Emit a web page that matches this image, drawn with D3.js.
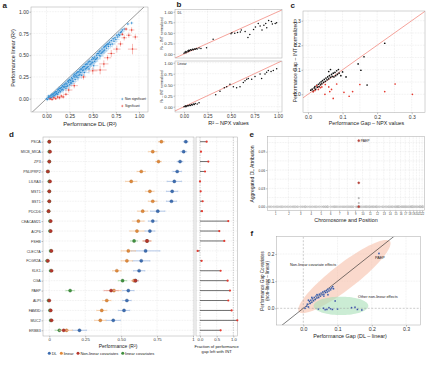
<!DOCTYPE html>
<html>
<head>
<meta charset="utf-8">
<script src="https://cdn.jsdelivr.net/npm/d3@7/dist/d3.min.js"></script>
<style>
  body { margin: 0; background: #fff; }
  svg { display: block; font-family: "Liberation Sans", Arial, sans-serif; }
</style>
</head>
<body>
<svg id="fig" width="440" height="368"></svg>
<script>
// ---------------- data ----------------

// a: performance DL vs linear, [x, y, err]
var aNonSig = [
  [0.00,0.00,0.02],[0.01,-0.01,0.02],[0.02,0.01,0.02],[0.03,0.00,0.02],[0.03,0.02,0.02],[0.04,0.03,0.02],
  [0.05,0.01,0.02],[0.05,0.04,0.02],[0.06,0.02,0.03],[0.07,0.05,0.02],[0.07,0.03,0.03],[0.08,0.06,0.02],
  [0.09,0.04,0.03],[0.09,0.07,0.02],[0.10,0.05,0.03],[0.11,0.08,0.03],[0.11,0.06,0.03],[0.12,0.10,0.02],
  [0.13,0.07,0.03],[0.13,0.11,0.03],[0.14,0.09,0.03],[0.15,0.12,0.03],[0.15,0.08,0.03],[0.16,0.13,0.03],
  [0.17,0.11,0.03],[0.17,0.15,0.02],[0.18,0.10,0.04],[0.19,0.16,0.03],[0.19,0.13,0.03],[0.20,0.14,0.03],
  [0.21,0.18,0.03],[0.21,0.12,0.04],[0.22,0.17,0.03],[0.23,0.20,0.03],[0.23,0.15,0.04],[0.24,0.19,0.03],
  [0.25,0.22,0.03],[0.25,0.16,0.04],[0.26,0.21,0.03],[0.27,0.24,0.03],[0.27,0.18,0.04],[0.28,0.23,0.03],
  [0.29,0.26,0.03],[0.29,0.20,0.04],[0.30,0.25,0.03],[0.31,0.27,0.03],[0.31,0.22,0.04],[0.32,0.29,0.03],
  [0.33,0.26,0.04],[0.33,0.30,0.03],[0.34,0.24,0.04],[0.35,0.31,0.03],[0.36,0.28,0.04],[0.36,0.33,0.03],
  [0.37,0.30,0.04],[0.38,0.34,0.03],[0.38,0.27,0.04],[0.39,0.36,0.03],[0.40,0.33,0.04],[0.41,0.37,0.03],
  [0.41,0.30,0.05],[0.42,0.39,0.03],[0.43,0.35,0.04],[0.44,0.40,0.03],[0.45,0.37,0.04],[0.45,0.42,0.03],
  [0.46,0.34,0.05],[0.47,0.43,0.03],[0.48,0.40,0.04],[0.49,0.45,0.03],[0.50,0.42,0.04],[0.50,0.47,0.03],
  [0.51,0.38,0.05],[0.52,0.48,0.03],[0.53,0.45,0.04],[0.54,0.50,0.03],[0.55,0.47,0.04],[0.56,0.52,0.03],
  [0.57,0.50,0.04],[0.58,0.55,0.03],[0.59,0.52,0.04],[0.60,0.57,0.03],[0.61,0.54,0.04],[0.62,0.59,0.03],
  [0.63,0.56,0.04],[0.64,0.61,0.03],[0.65,0.58,0.04],[0.66,0.63,0.03],[0.67,0.60,0.04],[0.68,0.65,0.03],
  [0.70,0.67,0.03],[0.71,0.63,0.04],[0.72,0.69,0.03],[0.74,0.70,0.03],[0.75,0.68,0.04],[0.76,0.73,0.03],
  [0.78,0.74,0.03],[0.80,0.76,0.03],[0.82,0.79,0.02],[0.84,0.80,0.03],[0.88,0.86,0.02],[0.92,0.87,0.02],
  [0.02,0.03,0.02],[0.04,0.01,0.02],[0.06,0.05,0.02],[0.08,0.03,0.02],[0.10,0.08,0.02],[0.12,0.05,0.03],
  [0.14,0.12,0.02],[0.16,0.10,0.03],[0.18,0.14,0.03],[0.20,0.17,0.03],[0.22,0.14,0.03],[0.24,0.21,0.03],
  [0.26,0.18,0.03],[0.28,0.20,0.03],[0.30,0.28,0.03],[0.32,0.25,0.03],[0.34,0.31,0.03],[0.35,0.27,0.04],
  [0.37,0.34,0.03],[0.39,0.32,0.04],[0.40,0.37,0.03],[0.42,0.34,0.04],[0.43,0.40,0.03],[0.44,0.36,0.04],
  [0.46,0.43,0.03],[0.47,0.39,0.04],[0.49,0.41,0.04],[0.51,0.46,0.03],[0.52,0.43,0.04],[0.54,0.46,0.04],
  [0.55,0.52,0.03],[0.57,0.54,0.03],[0.58,0.49,0.04],[0.60,0.53,0.04],[0.62,0.55,0.04],[0.63,0.60,0.03],
  [0.65,0.62,0.03],[0.67,0.63,0.03],[0.69,0.62,0.04],[0.73,0.66,0.04],[0.77,0.71,0.03],[0.79,0.73,0.03],
  [0.81,0.77,0.03]
];
// [x, y, errX, errY]
var aSig = [
  [0.04,0.00,0.02,0.015],[0.06,-0.01,0.02,0.015],[0.08,0.01,0.02,0.015],[0.10,0.00,0.02,0.015],
  [0.12,0.02,0.03,0.02],[0.14,0.01,0.02,0.02],[0.16,0.03,0.03,0.02],[0.18,0.02,0.02,0.02],
  [0.21,0.05,0.03,0.02],[0.24,0.10,0.04,0.03],[0.30,0.15,0.04,0.03],[0.40,0.25,0.03,0.03],
  [0.50,0.32,0.05,0.04],[0.58,0.33,0.07,0.05],[0.62,0.40,0.05,0.04],[0.66,0.47,0.04,0.03],
  [0.70,0.52,0.04,0.04],[0.76,0.57,0.04,0.04],[0.80,0.63,0.03,0.03],[0.84,0.70,0.03,0.03],
  [0.86,0.80,0.02,0.02],[0.89,0.73,0.03,0.03],[0.92,0.79,0.03,0.03],[0.96,0.71,0.03,0.03],
  [0.93,0.57,0.05,0.06],[0.82,0.74,0.02,0.02]
];
var r2Ticks = [0, 0.25, 0.5, 0.75, 1];

// b: R² NPX vs INT normalized, [x, y]
var bDL = [
  [0.00,0.02],[0.01,0.04],[0.02,0.03],[0.02,0.06],[0.03,0.05],[0.04,0.07],[0.05,0.06],[0.05,0.09],
  [0.06,0.08],[0.07,0.10],[0.08,0.09],[0.09,0.11],[0.10,0.10],[0.11,0.12],[0.12,0.11],[0.13,0.13],
  [0.14,0.12],[0.16,0.14],[0.18,0.13],[0.24,0.15],[0.31,0.35],
  [0.50,0.48],[0.51,0.50],[0.54,0.49],[0.57,0.51],[0.60,0.52],[0.61,0.57],[0.65,0.53],[0.68,0.39],
  [0.70,0.46],[0.74,0.58],[0.76,0.64],[0.79,0.72],[0.81,0.66],[0.83,0.57],[0.85,0.68],[0.87,0.72],
  [0.88,0.62],[0.90,0.79],[0.93,0.77],[0.94,0.71],[0.97,0.72],[0.985,0.74]
];
var bLinear = [
  [0.00,0.00],[0.01,0.01],[0.02,0.00],[0.02,0.02],[0.03,0.01],[0.04,0.03],[0.05,0.02],[0.06,0.04],
  [0.07,0.03],[0.08,0.05],[0.09,0.04],[0.10,0.06],[0.11,0.05],[0.12,0.07],[0.14,0.06],[0.16,0.09],
  [0.337,0.274],[0.383,0.352],[0.429,0.431],[0.454,0.454],[0.489,0.509],[0.525,0.454],[0.56,0.431],
  [0.596,0.454],[0.631,0.548],[0.649,0.587],[0.667,0.626],[0.684,0.642],[0.72,0.626],[0.755,0.689],
  [0.809,0.744],[0.826,0.642],[0.862,0.744],[0.879,0.783],[0.897,0.822],[0.926,0.798],[0.95,0.822],
  [0.986,0.861]
];

// c: performance gap NPX vs INT normalized
var gapTicks = [0, 0.1, 0.2, 0.3];
var cKept = [
  [0.008,0.017],[0.012,0.021],[0.015,0.013],[0.018,0.026],[0.020,0.031],[0.022,0.020],[0.025,0.036],
  [0.027,0.029],[0.030,0.041],[0.032,0.031],[0.034,0.046],[0.036,0.039],[0.038,0.051],[0.040,0.043],
  [0.042,0.056],[0.045,0.049],[0.047,0.061],[0.050,0.053],[0.052,0.066],[0.055,0.059],[0.057,0.071],
  [0.060,0.063],[0.062,0.076],[0.065,0.069],[0.068,0.081],[0.070,0.073],[0.073,0.086],[0.075,0.071],
  [0.078,0.089],[0.080,0.076],[0.083,0.096],[0.085,0.081],[0.088,0.101],[0.090,0.086],[0.095,0.076],
  [0.100,0.091],[0.110,0.071],[0.060,0.093],[0.065,0.101],[0.145,0.124],[0.153,0.098],[0.162,0.153],
  [0.171,0.038],[0.222,0.208]
];
var cLost = [
  [0.015,0.010],[0.020,0.015],[0.025,0.035],[0.030,0.020],[0.036,0.027],[0.040,0.030],[0.049,0.000],
  [0.050,0.040],[0.060,0.030],[0.063,0.011],[0.068,0.020],[0.073,-0.017],[0.083,0.042],[0.104,0.008],
  [0.119,-0.008],[0.129,0.011],[0.150,0.040],[0.222,0.011],[0.252,0.042],[0.302,0.000]
];

// d: per-protein performance
var genes = ["PSCA","MICB_MICA","ZP3","PNLIPRP2","LILRA3","MST1","BST1","PDCD6","CEACAM21","ACP6",
             "FSHB","CLEC7A","FCGR2A","KLK1","CGA","PAEP","ALPI","FAM3D","MUC2","ERBB3"];
var dlPerf  = [0.95,0.935,0.91,0.89,0.87,0.855,0.85,0.755,0.72,0.70,0.68,0.67,0.64,0.625,0.60,0.55,0.54,0.52,0.445,0.21];
var dlErr   = [0.015,0.02,0.02,0.03,0.05,0.04,0.035,0.05,0.03,0.035,0.02,0.10,0.06,0.04,0.02,0.04,0.03,0.04,0.05,0.05];
var linPerf = [0.78,0.72,0.76,0.64,0.57,0.70,0.72,0.65,0.62,0.61,0.68,0.55,0.54,0.47,0.59,0.45,0.40,0.365,0.355,0.12];
var linErr  = [0.02,0.03,0.02,0.03,0.04,0.03,0.03,0.035,0.04,0.05,0.03,0.05,0.04,0.03,0.02,0.05,0.03,0.035,0.04,0.04];
var nlcPerf = [0.0,0.005,0.0,-0.01,0.005,0.0,0.0,-0.005,0.01,0.01,0.68,0.015,-0.01,0.016,0.60,0.43,0.0,0.01,0.016,0.10];
var nlcErr  = [0.008,0.008,0.008,0.01,0.008,0.008,0.008,0.008,0.008,0.008,0.025,0.008,0.01,0.008,0.02,0.05,0.008,0.008,0.008,0.03];
var lcPerf  = [0.0,0.0,0.0,-0.01,0.0,0.0,0.0,-0.005,0.005,0.005,0.59,0.01,-0.015,0.01,0.51,0.145,-0.005,0.005,0.01,0.07];
var lcErr   = [0.008,0.008,0.008,0.008,0.008,0.008,0.008,0.008,0.008,0.008,0.025,0.008,0.008,0.008,0.03,0.03,0.008,0.008,0.008,0.03];
var gapLeft = [0.2,0.03,0.25,0.15,0.0,0.02,0.08,0.06,0.85,0.58,0.73,-0.07,0.05,0.62,0.83,0.9,0.85,0.95,1.12,0.62];
var dTicks = [0, 0.25, 0.5, 0.75, 1];
var dTickText = ["0", "0.25", "0.50", "0.75", "1"];
var fracTicks = [0, 0.5, 1];
var fracTickText = ["0.0", "0.5", "1.0"];
var dSeries = ["DL", "linear", "Non-linear covariates", "linear covariates"];

// e: aggregated DL attribution along the genome (hg19 lengths, Mb)
var chroms = ["1","2","3","4","5","6","7","8","9","10","11","12","13","14","15","16","17","18","19","20","21","22"];
var chromLen = [249.3,243.2,198.0,191.2,180.9,171.1,159.1,146.4,141.2,135.5,135.0,133.9,115.2,107.3,102.5,90.4,81.2,78.1,59.1,63.0,48.1,51.3];
var chromGenes = [
  [8,30,55,90,120,150,170,195,225,245],
  [12,40,70,100,130,160,190,215,235],
  [10,40,55,100,130,150,180,195],
  [5,40,75,100,130,160,185],
  [10,40,70,110,140,150,175],
  [5,30,33,45,90,120,150,165],
  [5,25,45,75,100,130,150],
  [10,30,55,80,100,120,140],
  [5,30,35,90,110,125,132],
  [10,30,50,75,95,115,130],
  [5,20,45,65,70,95,115,130],
  [8,30,50,55,70,100,120],
  [25,40,60,90,110],
  [22,35,55,75,95,103],
  [25,45,60,75,90,100],
  [3,15,28,58,70,85],
  [5,20,35,45,60,75],
  [10,25,45,60,75],
  [5,12,20,40,50],
  [10,30,45,60],
  [20,30,40,45],
  [20,30,38,45]
];
var hitChrom = ["9","9","9","9","9"];
var hitPos   = [138.3,138.3,138.3,138.3,138.3];
var hitVal   = [0.108,0.039,0.014,0.006,0.0];
var hitSig   = [true,true,false,false,true];
var eTicks = [0, 0.03, 0.06, 0.09];

// f: performance gap vs covariate gap
var fCovariate = [
  [0.005,0.000],[0.010,0.008],[0.012,0.015],[0.015,0.005],[0.018,0.025],[0.020,0.018],[0.022,0.030],
  [0.025,0.022],[0.027,0.035],[0.030,0.028],[0.032,0.040],[0.035,0.032],[0.037,0.045],[0.040,0.038],
  [0.042,0.048],[0.045,0.040],[0.047,0.052],[0.050,0.045],[0.052,0.056],[0.055,0.050],[0.057,0.060],
  [0.060,0.052],[0.062,0.063],[0.065,0.058],[0.068,0.066],[0.070,0.060],[0.072,0.070],[0.075,0.064],
  [0.078,0.072],[0.080,0.068],[0.083,0.075],[0.086,0.080],[0.088,0.072],[0.072,0.050],[0.060,0.045],
  [0.015,0.030],[0.025,0.040],[0.040,0.050]
];
var fOther = [
  [0.044,-0.003],[0.059,0.000],[0.064,-0.005],[0.069,-0.004],[0.075,0.002],[0.080,-0.002],[0.085,-0.004],
  [0.093,0.027],[0.100,-0.003],[0.141,0.002],[0.151,0.004],[0.158,-0.004],[0.171,-0.006]
];
var fPaep = [0.221, 0.202];
var fTicksY = [0, 0.1, 0.2];

// ---------------- helpers ----------------
var FONT = "Liberation Sans, Arial, sans-serif";
var svg = d3.select("#fig");

function label(x, y, s, size, anchor, rotate, weight) {
  var t = svg.append("text").attr("font-size", size).attr("fill", "#222")
    .attr("text-anchor", anchor || "start").text(s);
  if (rotate) t.attr("transform", "translate(" + x + "," + y + ") rotate(-90)");
  else t.attr("x", x).attr("y", y);
  if (weight) t.attr("font-weight", weight);
  return t;
}

var clipCount = 0;
function panel(box) {
  var id = "clip" + (clipCount++);
  svg.append("clipPath").attr("id", id).append("rect")
    .attr("x", box[0]).attr("y", box[1]).attr("width", box[2] - box[0]).attr("height", box[3] - box[1]);
  svg.append("rect").attr("x", box[0]).attr("y", box[1])
    .attr("width", box[2] - box[0]).attr("height", box[3] - box[1]).attr("fill", "#fff");
  var p = { box: box };
  p.grid = svg.append("g");
  p.plot = svg.append("g").attr("clip-path", "url(#" + id + ")");
  p.top = svg.append("g");
  p.top.append("rect").attr("x", box[0]).attr("y", box[1])
    .attr("width", box[2] - box[0]).attr("height", box[3] - box[1])
    .attr("fill", "none").attr("stroke", "#a8a8a8").attr("stroke-width", 0.5);
  return p;
}

function grid(p, x, y, xv, yv) {
  var b = p.box;
  p.grid.selectAll(null).data(xv || []).join("line")
    .attr("x1", function(d) { return x(d); }).attr("x2", function(d) { return x(d); })
    .attr("y1", b[1]).attr("y2", b[3]);
  p.grid.selectAll(null).data(yv || []).join("line")
    .attr("y1", function(d) { return y(d); }).attr("y2", function(d) { return y(d); })
    .attr("x1", b[0]).attr("x2", b[2]);
  p.grid.selectAll("line").attr("stroke", "#d6d6d6").attr("stroke-width", 0.4)
    .attr("stroke-dasharray", "0.8,0.8");
}

function axis(p, side, scale, values, fmt, size) {
  var b = p.box, ax, g;
  if (side === "bottom") {
    ax = d3.axisBottom(scale);
    g = p.top.append("g").attr("transform", "translate(0," + b[3] + ")");
  } else {
    ax = d3.axisLeft(scale);
    g = p.top.append("g").attr("transform", "translate(" + b[0] + ",0)");
  }
  if (values) ax.tickValues(values);
  if (fmt) ax.tickFormat(fmt);
  ax.tickSize(1.5).tickPadding(0.8);
  g.call(ax).attr("font-family", FONT).attr("font-size", size);
  g.select(".domain").remove();
  g.selectAll(".tick line").attr("stroke", "#666").attr("stroke-width", 0.4);
  g.selectAll(".tick text").attr("fill", "#333");
  return g;
}

function diagonal(p, x, y, lo, hi, color, width) {
  p.plot.append("line").attr("x1", x(lo)).attr("y1", y(lo)).attr("x2", x(hi)).attr("y2", y(hi))
    .attr("stroke", color).attr("stroke-width", width);
}

function dots(g, data, x, y, r, fill, stroke) {
  g.selectAll(null).data(data).join("circle")
    .attr("cx", function(d) { return x(d[0]); }).attr("cy", function(d) { return y(d[1]); })
    .attr("r", r).attr("fill", fill).attr("stroke", stroke || "none").attr("stroke-width", 0.25);
}

// ---------------- a ----------------
var pa = panel([31, 7, 148, 112]);
var xa = d3.scaleLinear().domain([0, 1]).range([46.5, 139]);
var ya = d3.scaleLinear().domain([0, 1]).range([98.7, 11.7]);
grid(pa, xa, ya, r2Ticks, r2Ticks);
diagonal(pa, xa, ya, -0.3, 1.3, "#555", 0.6);

function crosses(data, light, dark) {
  var g = pa.plot.append("g");
  g.selectAll(null).data(data).join("line")
    .attr("x1", function(d) { return xa(d[0] - d[2]); }).attr("x2", function(d) { return xa(d[0] + d[2]); })
    .attr("y1", function(d) { return ya(d[1]); }).attr("y2", function(d) { return ya(d[1]); })
    .attr("stroke", light).attr("stroke-width", 0.6);
  g.selectAll(null).data(data).join("line")
    .attr("x1", function(d) { return xa(d[0]); }).attr("x2", function(d) { return xa(d[0]); })
    .attr("y1", function(d) { return ya(d[1] - (d[3] === undefined ? d[2] : d[3])); })
    .attr("y2", function(d) { return ya(d[1] + (d[3] === undefined ? d[2] : d[3])); })
    .attr("stroke", light).attr("stroke-width", 0.6);
  dots(g, data, xa, ya, 0.75, dark);
}
crosses(aNonSig, "rgba(130,185,228,0.7)", "#2f8bd0");
crosses(aSig, "rgba(240,120,110,0.85)", "#e5392f");

axis(pa, "bottom", xa, r2Ticks, d3.format(".2f"), 5);
axis(pa, "left", ya, r2Ticks, d3.format(".2f"), 5);
label(2.5, 7.5, "a", 8, "start", false, "bold");
label(90, 126, "Performance DL (R²)", 5.8, "middle");
label(14.5, 58, "Performance linear (R²)", 5.5, "middle", true);

// legend a
var aLegend = [["Non significant", "rgba(120,180,225,0.9)", "#2f8bd0"], ["Significant", "rgba(240,120,110,0.9)", "#e5392f"]];
aLegend.forEach(function(item, i) {
  var cx = 122.3, cy = 99 + i * 7;
  svg.append("line").attr("x1", cx - 1.3).attr("x2", cx + 1.3).attr("y1", cy).attr("y2", cy).attr("stroke", item[1]).attr("stroke-width", 0.5);
  svg.append("line").attr("x1", cx).attr("x2", cx).attr("y1", cy - 1.3).attr("y2", cy + 1.3).attr("stroke", item[1]).attr("stroke-width", 0.5);
  svg.append("circle").attr("cx", cx).attr("cy", cy).attr("r", 0.6).attr("fill", item[2]);
  label(125, cy + 1.1, item[0], 3.2, "start");
});

// ---------------- b ----------------
var xb = d3.scaleLinear().domain([0, 1]).range([184, 278]);
var pbTop = panel([175, 9.3, 282, 58]);
var ybTop = d3.scaleLinear().domain([0, 1]).range([54, 11.7]);
var pbBot = panel([175, 61, 282, 112]);
var ybBot = d3.scaleLinear().domain([0, 1]).range([106.7, 62.7]);
[[pbTop, ybTop, bDL, "DL"], [pbBot, ybBot, bLinear, "Linear"]].forEach(function(f) {
  grid(f[0], xb, f[1], r2Ticks, r2Ticks);
  diagonal(f[0], xb, f[1], -0.3, 1.3, "#f28b82", 0.8);
  dots(f[0].plot, f[2], xb, f[1], 0.75, "#111");
  axis(f[0], "left", f[1], r2Ticks, d3.format(".2f"), 4.3);
  label(177.5, f[0].box[1] + 4.4, f[3], 3.3, "start");
  label(163.3, (f[0].box[1] + f[0].box[3]) / 2, "R² – INT normalized", 3.6, "middle", true);
});
axis(pbTop, "bottom", xb, r2Ticks, function() { return ""; }, 4.3).selectAll(".tick line").remove();
axis(pbBot, "bottom", xb, r2Ticks, d3.format(".2f"), 4.6);
label(176.5, 7, "b", 8, "start", false, "bold");
label(228.5, 124.5, "R² – NPX values", 5.5, "middle");

// ---------------- c ----------------
var pc = panel([303, 11, 425, 112.7]);
var xc = d3.scaleLinear().domain([0, 0.3]).range([308, 411.7]);
var yc = d3.scaleLinear().domain([0, 0.3]).range([94.3, 20.7]);
grid(pc, xc, yc, [0, 0.05, 0.1, 0.15, 0.2, 0.25, 0.3], [0, 0.05, 0.1, 0.15, 0.2, 0.25, 0.3]);
diagonal(pc, xc, yc, -0.1, 0.5, "#f28b82", 0.8);
dots(pc.plot, cKept, xc, yc, 0.85, "#111");
dots(pc.plot, cLost, xc, yc, 0.85, "#e5392f");
axis(pc, "bottom", xc, gapTicks, d3.format(".1f"), 5);
axis(pc, "left", yc, gapTicks, d3.format(".1f"), 5);
label(290.5, 7.5, "c", 8, "start", false, "bold");
label(366.5, 125, "Performance Gap – NPX values", 5.3, "middle");
label(296.5, 62, "Performance Gap – INT normalized", 5.1, "middle", true);

// ---------------- d ----------------
var pd = panel([43, 137, 194, 336]);
var xd = d3.scaleLinear().domain([0, 1]).range([49.3, 193]);
var yd = d3.scalePoint().domain(genes).range([141.7, 330.3]);
grid(pd, xd, yd, dTicks, genes);
var dColors = [
  { vals: dlPerf,  errs: dlErr,  dark: "#3c6cb0", light: "#a3bde3" },
  { vals: linPerf, errs: linErr, dark: "#e0893a", light: "#f4c79c" },
  { vals: lcPerf,  errs: lcErr,  dark: "#3f8f3f", light: "#a5d6a0" },
  { vals: nlcPerf, errs: nlcErr, dark: "#b5362c", light: "#e7a29a" }
];
dColors.forEach(function(s) {
  var rows = genes.map(function(g, i) { return { g: g, v: s.vals[i], e: s.errs[i] }; });
  var g = pd.plot.append("g");
  g.selectAll(null).data(rows).join("line")
    .attr("x1", function(d) { return xd(d.v - d.e); }).attr("x2", function(d) { return xd(d.v + d.e); })
    .attr("y1", function(d) { return yd(d.g); }).attr("y2", function(d) { return yd(d.g); })
    .attr("stroke", s.light).attr("stroke-width", 0.8);
  [-1, 1].forEach(function(side) {
    g.selectAll(null).data(rows).join("line")
      .attr("x1", function(d) { return xd(d.v + side * d.e); }).attr("x2", function(d) { return xd(d.v + side * d.e); })
      .attr("y1", function(d) { return yd(d.g) - 0.8; }).attr("y2", function(d) { return yd(d.g) + 0.8; })
      .attr("stroke", s.light).attr("stroke-width", 0.5);
  });
  g.selectAll(null).data(rows).join("circle")
    .attr("cx", function(d) { return xd(d.v); }).attr("cy", function(d) { return yd(d.g); })
    .attr("r", 1.6).attr("fill", s.dark).attr("stroke", d3.color(s.dark).darker(0.8)).attr("stroke-width", 0.3);
});
axis(pd, "bottom", xd, dTicks, function(d, i) { return dTickText[i]; }, 4.3);
axis(pd, "left", yd, null, null, 3.6);
label(9, 136.5, "d", 8, "start", false, "bold");
label(118, 348, "Performance (R²)", 5, "middle");

// legend d
var legendColors = ["#3c6cb0", "#e0893a", "#b5362c", "#3f8f3f"];
var lx = 49.3;
dSeries.forEach(function(name, i) {
  svg.append("circle").attr("cx", lx).attr("cy", 353.3).attr("r", 1.5).attr("fill", legendColors[i]);
  var t = label(lx + 2.4, 354.8, name, 4, "start");
  lx += 2.4 + t.node().getComputedTextLength() + 4.5;
});

// fraction of gap left
var pfr = panel([196, 137, 237.5, 336]);
var xfr = d3.scaleLinear().domain([0, 1]).range([200, 233.3]);
grid(pfr, xfr, yd, [0.5], genes);
pfr.grid.selectAll(null).data([0, 1]).join("line")
  .attr("x1", function(d) { return xfr(d); }).attr("x2", function(d) { return xfr(d); })
  .attr("y1", 137).attr("y2", 336).attr("stroke", "#9a9a9a").attr("stroke-width", 0.5).attr("stroke-dasharray", "1.5,1");
var fracRows = genes.map(function(g, i) { return { g: g, v: gapLeft[i] }; });
svg.append("g").selectAll(null).data(fracRows).join("line")
  .attr("x1", xfr(0)).attr("x2", function(d) { return xfr(d.v); })
  .attr("y1", function(d) { return yd(d.g); }).attr("y2", function(d) { return yd(d.g); })
  .attr("stroke", "#4a4a4a").attr("stroke-width", 0.8);
svg.append("g").selectAll(null).data(fracRows).join("circle")
  .attr("cx", function(d) { return xfr(d.v); }).attr("cy", function(d) { return yd(d.g); })
  .attr("r", 1.1).attr("fill", "#e5392f");
axis(pfr, "bottom", xfr, fracTicks, function(d, i) { return fracTickText[i]; }, 4.2);
label(216.7, 347.5, "Fraction of performance", 4.2, "middle");
label(216.7, 352.8, "gap left with INT", 4.2, "middle");

// ---------------- e ----------------
var chromStart = [0].concat(Array.from(d3.cumsum(chromLen)));
var chromIdx = {};
chroms.forEach(function(c, i) { chromIdx[c] = i; });
var pe = panel([267.3, 136.7, 424.3, 210.7]);
var xe = d3.scaleLinear().domain([0, chromStart[chroms.length]]).range([268.5, 423.5]);
var ye = d3.scaleLinear().domain([0, 0.09]).range([206.7, 151.7]);
var chromMid = chroms.map(function(c, i) { return chromStart[i] + chromLen[i] / 2; });
grid(pe, xe, ye, chromMid, [0, 0.015, 0.03, 0.045, 0.06, 0.075, 0.09, 0.105]);
var baseline = [];
chromGenes.forEach(function(list, i) {
  list.forEach(function(pos) { baseline.push([chromStart[i] + pos, 0]); });
});
dots(pe.plot, baseline, xe, ye, 0.9, "#e4e4e4", "#8a8a8a");
var hits = hitVal.map(function(v, i) {
  return { x: chromStart[chromIdx[hitChrom[i]]] + hitPos[i], v: v, sig: hitSig[i] };
});
pe.plot.selectAll(null).data(hits).join("circle")
  .attr("cx", function(d) { return xe(d.x); }).attr("cy", function(d) { return ye(d.v); })
  .attr("r", function(d) { return d.sig ? 1.1 : 0.8; })
  .attr("fill", function(d) { return d.sig ? "#c0473e" : "#bbbbbb"; })
  .attr("stroke", function(d) { return d.sig ? "#8e2a22" : "#888"; }).attr("stroke-width", 0.25);
label(xe(hits[0].x) + 2, ye(hits[0].v) + 0.8, "PAEP", 3.4, "start");
axis(pe, "bottom", xe, chromMid, function(d, i) { return chroms[i]; }, 2.6);
axis(pe, "left", ye, eTicks, d3.format(".2f"), 3.3);
label(249.5, 137, "e", 8, "start", false, "bold");
label(346, 221.5, "Chromosome and Position", 5.4, "middle");
label(253.8, 174, "Aggregated DL Attribution", 5, "middle", true);

// ---------------- f ----------------
var pf = panel([276.7, 236.7, 420.7, 325]);
var xf = d3.scaleLinear().domain([0, 0.3]).range([303.3, 406]);
var yf = d3.scaleLinear().domain([0, 0.2]).range([308.3, 254]);
grid(pf, xf, yf, [0.1, 0.2, 0.3], [0.1, 0.2]);
function ellipse(cx, cy, a, b, angle) {
  var pts = d3.range(0, 2 * Math.PI + 0.01, Math.PI / 40).map(function(t) {
    var u = a * Math.cos(t), v = b * Math.sin(t);
    return [cx + u * Math.cos(angle) - v * Math.sin(angle), cy + u * Math.sin(angle) + v * Math.cos(angle)];
  });
  return d3.line().x(function(d) { return xf(d[0]); }).y(function(d) { return yf(d[1]); })(pts) + "Z";
}
pf.plot.append("path").attr("d", ellipse(0.12, 0.117, 0.186, 0.042, Math.PI / 4))
  .attr("fill", "#f6b9a2").attr("fill-opacity", 0.55);
pf.plot.append("path").attr("d", ellipse(0.11, 0.009, 0.08, 0.034, 0))
  .attr("fill", "#a9dfb8").attr("fill-opacity", 0.6);
pf.plot.append("line").attr("x1", xf(0)).attr("x2", xf(0)).attr("y1", 236.7).attr("y2", 325)
  .attr("stroke", "#999").attr("stroke-width", 0.5).attr("stroke-dasharray", "2,1.5");
pf.plot.append("line").attr("x1", 276.7).attr("x2", 420.7).attr("y1", yf(0)).attr("y2", yf(0))
  .attr("stroke", "#999").attr("stroke-width", 0.5).attr("stroke-dasharray", "2,1.5");
diagonal(pf, xf, yf, -0.1, 0.4, "#222", 0.6);
dots(pf.plot, fCovariate.concat(fOther, [fPaep]), xf, yf, 0.95, "#2d4a98", "#dfe6f5");
label(290, 265.5, "Non-linear covariate effects", 3.8, "start");
label(358, 298, "Other non-linear effects", 3.8, "start");
label(xf(fPaep[0]) - 4, yf(fPaep[1]) + 5.2, "PAEP", 3.8, "start");
axis(pf, "bottom", xf, gapTicks, d3.format(".1f"), 5.2);
axis(pf, "left", yf, fTicksY, d3.format(".1f"), 4.8);
label(250.5, 236, "f", 8, "start", false, "bold");
label(350, 338, "Performance Gap (DL – linear)", 5.4, "middle");
label(263.5, 281, "Performance Gap Covariates", 4.6, "middle", true);
label(268.6, 281, "(non-linear – linear)", 4.6, "middle", true);
</script>
</body>
</html>
